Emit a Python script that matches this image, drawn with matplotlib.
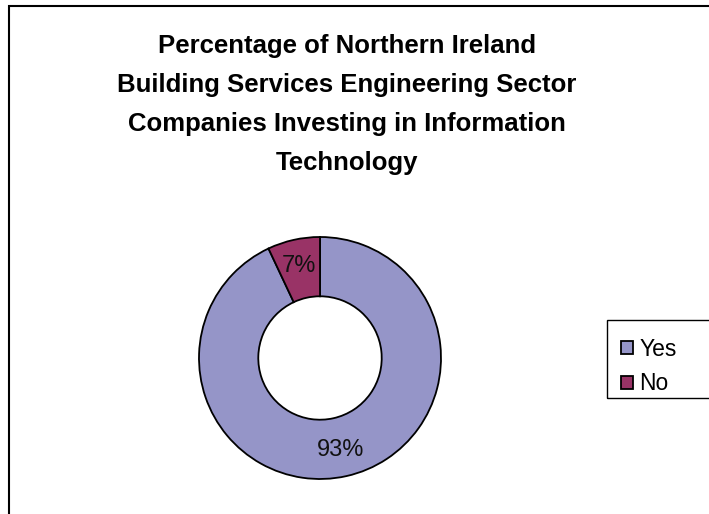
import matplotlib
matplotlib.use('Agg')
import matplotlib.pyplot as plt
from matplotlib.patches import Rectangle

plt.rcParams['font.family'] = ['Liberation Sans', 'DejaVu Sans']

# 投资信息技术的公司比例
labels = ['Yes', 'No']
shares = [93, 7]
colors = ['#9595C8', '#993366']

title = ('Percentage of Northern Ireland\n'
         'Building Services Engineering Sector\n'
         'Companies Investing in Information\n'
         'Technology')

W, H = 709, 514
fig = plt.figure(figsize=(W / 100, H / 100), dpi=100)

# 外框（右侧和底部被裁掉）
fig.patches.append(Rectangle((9 / W, -0.1), 1.2, 1.1 - 6 / H,
                             transform=fig.transFigure, fill=False,
                             edgecolor='black', linewidth=1.5))

fig.text(347 / W, 1 - 34 / H, title, ha='center', va='top',
         fontsize=18.5, fontweight='bold', linespacing=1.79)

# 圆环图
cx, cy, R = 320, 358, 121
ax = fig.add_axes([(cx - R) / W, (H - cy - R) / H, 2 * R / W, 2 * R / H])
wedges, texts, autotexts = ax.pie(
    shares, colors=colors, startangle=90, counterclock=False,
    autopct='%d%%', pctdistance=0.78, radius=1,
    wedgeprops=dict(width=0.49, edgecolor='black', linewidth=1.3),
    textprops=dict(fontsize=17, color='#111111'))
ax.set_xlim(-1, 1)
ax.set_ylim(-1, 1)
ax.set_aspect('equal')
ax.axis('off')

# 图例
fig.patches.append(Rectangle((607 / W, 1 - 398 / H), 0.3, 78 / H,
                             transform=fig.transFigure, fill=False,
                             edgecolor='black', linewidth=1.0))
fig.legend(wedges, labels, loc='upper left',
           bbox_to_anchor=(605 / W, 1 - 322 / H), frameon=False,
           fontsize=16.5, handlelength=0.5, handleheight=0.5,
           handletextpad=0.3, labelspacing=0.5, borderpad=0.2)

fig.savefig('out.png', dpi=100)
